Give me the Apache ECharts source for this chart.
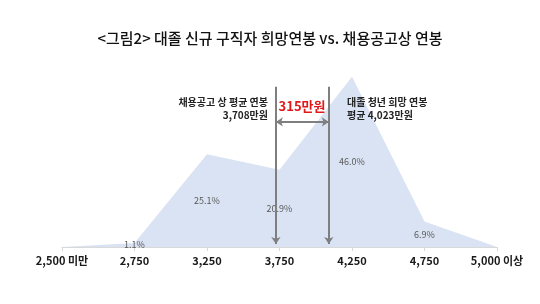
<!DOCTYPE html>
<html>
<head>
<meta charset="utf-8">
<script src="https://cdn.jsdelivr.net/npm/echarts@6/dist/echarts.min.js"></script>
<style>
html,body{margin:0;padding:0;background:#fff;}
#chart{width:540px;height:304px;}
</style>
</head>
<body>
<div id="chart"></div>
<script>
// ---- data ----
const categories = ['2,500 미만', '2,750', '3,250', '3,750', '4,250', '4,750', '5,000 이상'];
const shares = [0, 1.1, 25.1, 20.9, 46.0, 6.9, 0];
const titleText = '<그림2> 대졸 신규 구직자 희망연봉 vs. 채용공고상 연봉';
const postingLabel = ['채용공고 상 평균 연봉', '3,708만원'];
const hopeLabel = ['대졸 청년 희망 연봉', '평균 4,023만원'];
const gapLabel = '315만원';
// marker positions on the category index scale (as drawn in the original)
const postingPos = 2.95;
const hopePos = 3.68;

const FONT = '"Noto Sans CJK KR", "Noto Sans", sans-serif';
const GRAY = '#7f7f7f';

const chart = echarts.init(document.getElementById('chart'), null, {renderer: 'canvas'});
chart.setOption({
  animation: false,
  backgroundColor: '#ffffff',
  title: {
    text: titleText,
    left: 'center',
    top: 26,
    textStyle: {fontFamily: FONT, fontSize: 15, fontWeight: 500, color: '#111'}
  },
  grid: {left: 62, right: 43, top: 62, bottom: 57},
  xAxis: [{
    type: 'category',
    data: categories,
    boundaryGap: false,
    axisLine: {lineStyle: {color: '#d9d9d9', width: 1}},
    axisTick: {show: true, length: 4, lineStyle: {color: '#d9d9d9'}},
    axisLabel: {fontFamily: FONT, fontSize: 11, fontWeight: 'bold', color: '#1a1a1a', margin: 8},
    splitLine: {show: false}
  }, {
    type: 'value',
    min: 0,
    max: categories.length - 1,
    show: false
  }],
  yAxis: {type: 'value', min: 0, max: 50, show: false},
  series: [{
    type: 'line',
    data: shares,
    symbol: 'none',
    lineStyle: {width: 0},
    areaStyle: {color: '#dae3f3', opacity: 1},
    z: 1
  }, {
    type: 'bar',
    data: shares.map((v, i) => (i === 0 || i === shares.length - 1) ? null : v),
    barWidth: 20,
    itemStyle: {color: 'rgba(0,0,0,0)'},
    label: {
      show: true,
      position: 'inside',
      formatter: p => p.value.toFixed(1) + '%',
      fontFamily: FONT,
      fontSize: 9,
      color: '#595959'
    },
    z: 3
  }, {
    type: 'line',
    xAxisIndex: 1,
    data: [[0, 0]],
    symbol: 'none',
    lineStyle: {width: 0},
    silent: true,
    z: 5,
    markLine: {
      silent: true,
      symbolSize: 7,
      label: {show: false},
      lineStyle: {color: GRAY, width: 2, type: 'solid'},
      data: [
        [{coord: [postingPos, 43.3], symbol: 'none'}, {coord: [postingPos, 0.8], symbol: 'arrow'}],
        [{coord: [hopePos, 43.3], symbol: 'none'}, {coord: [hopePos, 0.8], symbol: 'arrow'}],
        [{coord: [postingPos, 33.8], symbol: 'arrow'}, {coord: [hopePos, 33.8], symbol: 'arrow'}]
      ]
    }
  }],
  graphic: [{
    type: 'text',
    z: 100,
    x: 268, y: 96,
    style: {
      text: postingLabel.join('\n'),
      align: 'right',
      verticalAlign: 'top',
      font: 'bold 10px ' + FONT,
      lineHeight: 13,
      fill: '#222'
    }
  }, {
    type: 'text',
    z: 100,
    x: 347, y: 96,
    style: {
      text: hopeLabel.join('\n'),
      align: 'left',
      verticalAlign: 'top',
      font: 'bold 10px ' + FONT,
      lineHeight: 13,
      fill: '#222'
    }
  }, {
    type: 'text',
    z: 100,
    x: 302, y: 106,
    style: {
      text: gapLabel,
      align: 'center',
      verticalAlign: 'middle',
      font: 'bold 13px ' + FONT,
      fill: '#e0191b'
    }
  }]
});
</script>
</body>
</html>
